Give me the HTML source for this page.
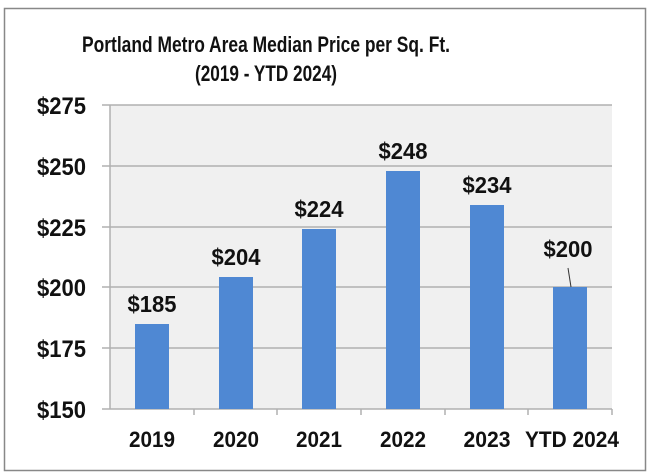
<!DOCTYPE html>
<html><head><style>body{margin:0;background:#fff}svg{display:block}</style></head><body>
<svg width="650" height="475" xmlns="http://www.w3.org/2000/svg" font-family="Liberation Sans, sans-serif" font-weight="bold">
<rect x="4.5" y="8.5" width="641" height="462" fill="#fff" stroke="#888" stroke-width="1.5"/>
<text x="266" y="52" font-size="22" text-anchor="middle" textLength="368" lengthAdjust="spacingAndGlyphs" fill="#111">Portland Metro Area Median Price per Sq. Ft.</text>
<text x="266" y="81" font-size="22" text-anchor="middle" textLength="142" lengthAdjust="spacingAndGlyphs" fill="#111">(2019 - YTD 2024)</text>
<rect x="110" y="105" width="502" height="304" fill="#f0f0f0"/>
<g stroke="#b0b0b0" stroke-width="1.5">
<line x1="102" y1="105" x2="612" y2="105"/><line x1="102" y1="166" x2="612" y2="166"/><line x1="102" y1="227" x2="612" y2="227"/><line x1="102" y1="287" x2="612" y2="287"/><line x1="102" y1="348" x2="612" y2="348"/><line x1="102" y1="409" x2="612" y2="409"/>
<line x1="110" y1="105" x2="110" y2="409"/>
<line x1="194" y1="409" x2="194" y2="415"/><line x1="277" y1="409" x2="277" y2="415"/><line x1="361" y1="409" x2="361" y2="415"/><line x1="445" y1="409" x2="445" y2="415"/><line x1="528" y1="409" x2="528" y2="415"/><line x1="612" y1="409" x2="612" y2="415"/>
</g>
<g font-size="24" text-anchor="end" fill="#111">
<text x="86" y="114" textLength="49" lengthAdjust="spacingAndGlyphs">$275</text><text x="86" y="175" textLength="49" lengthAdjust="spacingAndGlyphs">$250</text><text x="86" y="236" textLength="49" lengthAdjust="spacingAndGlyphs">$225</text><text x="86" y="296" textLength="49" lengthAdjust="spacingAndGlyphs">$200</text><text x="86" y="357" textLength="49" lengthAdjust="spacingAndGlyphs">$175</text><text x="86" y="418" textLength="49" lengthAdjust="spacingAndGlyphs">$150</text>
</g>
<g fill="#4f88d3">
<rect x="135" y="324" width="34" height="85"/>
<rect x="219" y="277" width="34" height="132"/>
<rect x="302" y="229" width="34" height="180"/>
<rect x="386" y="171" width="34" height="238"/>
<rect x="470" y="205" width="34" height="204"/>
<rect x="553" y="287" width="34" height="122"/>
</g>
<line x1="568" y1="268" x2="571" y2="287" stroke="#333" stroke-width="1"/>
<g font-size="23" text-anchor="middle" fill="#111">
<text x="152" y="312" textLength="49" lengthAdjust="spacingAndGlyphs">$185</text><text x="236" y="265" textLength="49" lengthAdjust="spacingAndGlyphs">$204</text><text x="319" y="217" textLength="49" lengthAdjust="spacingAndGlyphs">$224</text><text x="403" y="159" textLength="49" lengthAdjust="spacingAndGlyphs">$248</text><text x="487" y="193" textLength="49" lengthAdjust="spacingAndGlyphs">$234</text><text x="568" y="257" textLength="49" lengthAdjust="spacingAndGlyphs">$200</text>
</g>
<g font-size="22" text-anchor="middle" fill="#111">
<text x="152" y="447" textLength="46" lengthAdjust="spacingAndGlyphs">2019</text><text x="236" y="447" textLength="46" lengthAdjust="spacingAndGlyphs">2020</text><text x="319" y="447" textLength="46" lengthAdjust="spacingAndGlyphs">2021</text><text x="403" y="447" textLength="46" lengthAdjust="spacingAndGlyphs">2022</text><text x="487" y="447" textLength="47" lengthAdjust="spacingAndGlyphs">2023</text><text x="572" y="447" textLength="94" lengthAdjust="spacingAndGlyphs">YTD 2024</text>
</g>
</svg>
</body></html>
